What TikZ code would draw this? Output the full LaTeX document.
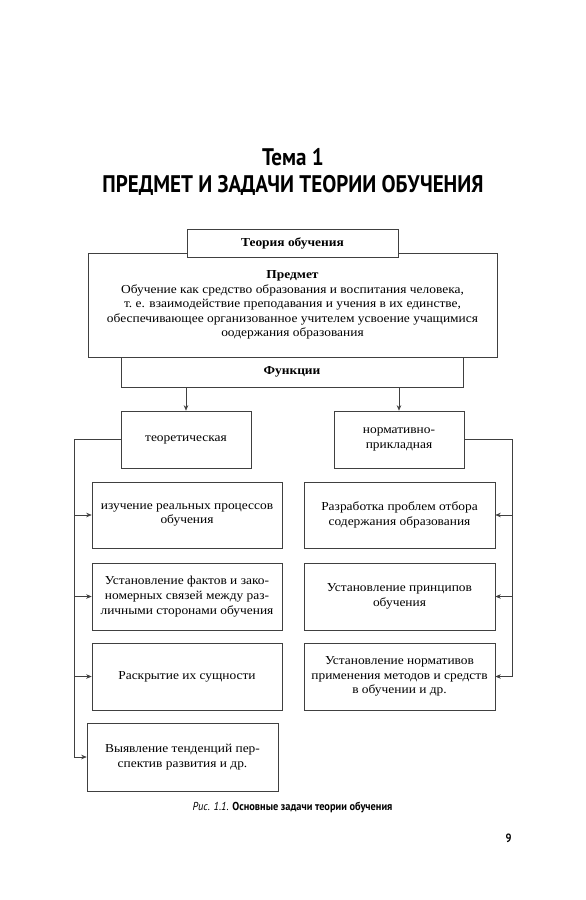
\documentclass[tikz,border=0pt]{standalone}
\usepackage{fontspec}
\setmainfont{Liberation Serif}[FakeStretch=1.1]
\newfontfamily\headfont{PT Sans}[FakeStretch=0.875]
\newfontfamily\captionfont{PT Sans}[FakeStretch=0.9]
\usetikzlibrary{arrows.meta, calc}

\begin{document}
\begin{tikzpicture} [x = 1pt, y = -1pt, line width = 0.6pt,
	box/.style = {draw = black!75, fill = white, align = center, inner sep = 0pt,
		font = \fontsize{12.2}{14.6}\selectfont},
	arr/.style = {draw = black!75, -{Stealth[length = 5.5pt, width = 4.5pt]}}]

	\useasboundingbox (0, 0) rectangle (586, 900);

% Heading.

	\node [font = \headfont\bfseries\fontsize{24}{24}\selectfont] (theme) at (293, 157) {Тема 1};
	\node [font = \headfont\bfseries\fontsize{24}{24}\selectfont] (title) at (293, 185) {ПРЕДМЕТ И ЗАДАЧИ ТЕОРИИ ОБУЧЕНИЯ};

% Draw boxes.

	%top
	\node [box, minimum width = 409, minimum height = 104] (subject) at (292.5, 305) {\textbf{Предмет}\\Обучение как средство образования и воспитания человека,\\т.~е. взаимодействие преподавания и учения в их единстве,\\обеспечивающее организованное учителем усвоение учащимися\\оодержания образования};
	\node [box, minimum width = 211, minimum height = 28] (theory) at (292.5, 243) {\textbf{Теория обучения}};
	\node [box, minimum width = 342, minimum height = 30] (functions) at (292, 372) {\textbf{Функции}};

	%functions
	\node [box, minimum width = 130, minimum height = 57] (theoretical) at (186, 439.5) {теоретическая};
	\node [box, minimum width = 130, minimum height = 57] (normative) at (399, 439.5) {нормативно-\\прикладная};

	%left column
	\node [box, minimum width = 190, minimum height = 66] (studyL) at (187, 515) {изучение реальных процессов\\обучения};
	\node [box, minimum width = 190, minimum height = 67] (factsL) at (187, 596.5) {Установление фактов и зако-\\номерных связей между раз-\\личными сторонами обучения};
	\node [box, minimum width = 190, minimum height = 67] (essenceL) at (187, 676.5) {Раскрытие их сущности};
	\node [box, minimum width = 191, minimum height = 68] (trendsL) at (182.5, 757) {Выявление тенденций пер-\\спектив развития и др.};

	%right column
	\node [box, minimum width = 191, minimum height = 66] (contentR) at (399.5, 515) {Разработка проблем отбора\\содержания образования};
	\node [box, minimum width = 191, minimum height = 67] (principlesR) at (399.5, 596.5) {Установление принципов\\обучения};
	\node [box, minimum width = 191, minimum height = 67] (normsR) at (399.5, 676.5) {Установление нормативов\\применения методов и средств\\в обучении и др.};

% Draw connectors.

	\coordinate (leftTrunk) at (74, 0);
	\coordinate (rightTrunk) at (512, 0);

	\draw[arr] (functions.south -| theoretical) -- (theoretical.north);
	\draw[arr] (functions.south -| normative) -- (normative.north);

	\draw[arr] (theoretical.west) -| (leftTrunk |- trendsL.west) -- (trendsL.west);
	\draw[arr] (leftTrunk |- studyL.west) -- (studyL.west);
	\draw[arr] (leftTrunk |- factsL.west) -- (factsL.west);
	\draw[arr] (leftTrunk |- essenceL.west) -- (essenceL.west);

	\draw[arr] (normative.east) -| (rightTrunk |- normsR.east) -- (normsR.east);
	\draw[arr] (rightTrunk |- contentR.east) -- (contentR.east);
	\draw[arr] (rightTrunk |- principlesR.east) -- (principlesR.east);

% Caption and page number.

	\node [font = \captionfont\fontsize{11.5}{11.5}\selectfont] (caption) at (292.5, 807) {\textit{Рис. 1.1.} \textbf{Основные задачи теории обучения}};
	\node [font = \headfont\bfseries\fontsize{12}{12}\selectfont] (page) at (508.5, 838.5) {9};

\end{tikzpicture}
\end{document}
